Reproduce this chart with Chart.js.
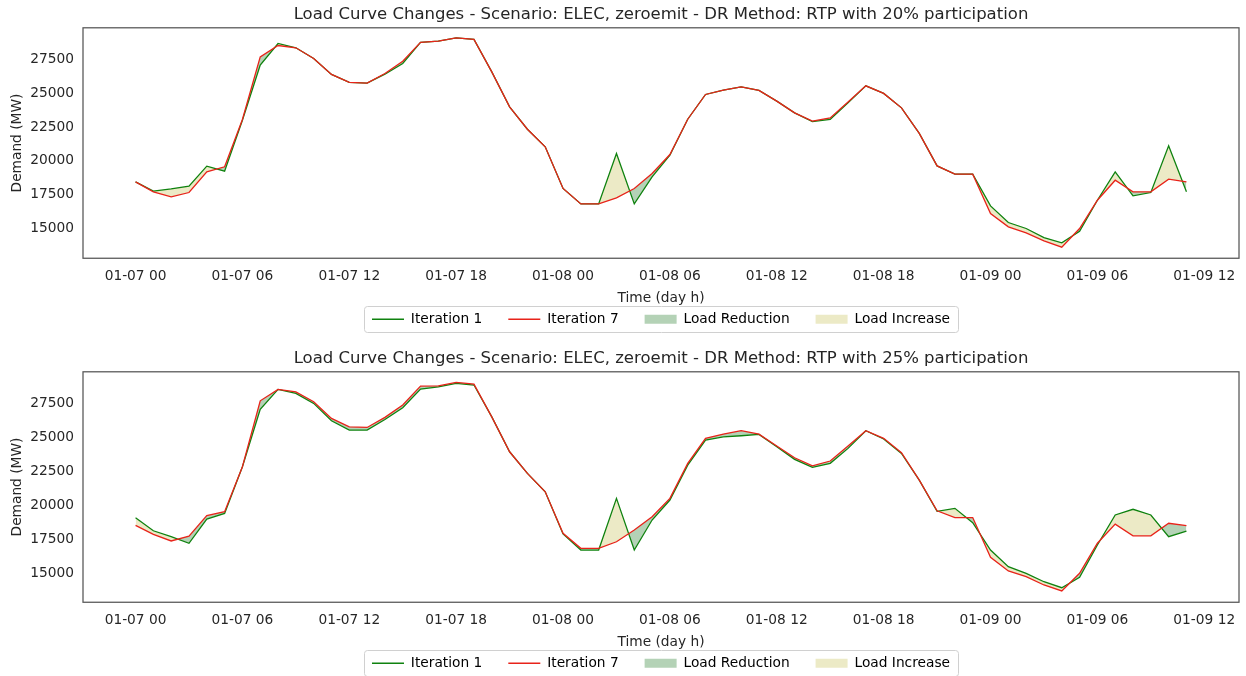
<!DOCTYPE html>
<html>
<head>
<meta charset="utf-8">
<script src="https://cdn.jsdelivr.net/npm/chart.js@4.4.1/dist/chart.umd.min.js"></script>
<style>
  html, body { margin: 0; padding: 0; background: #fff; overflow: hidden; }
  canvas { position: absolute; left: 0; }
</style>
</head>
<body>
<canvas id="graf1" width="1246" height="344" style="top:0px"></canvas>
<canvas id="graf2" width="1246" height="344" style="top:344px"></canvas>
<script>
// horas desde 01-07 00
const horas = Array.from({ length: 60 }, (_, i) => i);

const tickHoras = [0, 6, 12, 18, 24, 30, 36, 42, 48, 54, 60];
const etiquetasX = ['01-07 00', '01-07 06', '01-07 12', '01-07 18', '01-08 00', '01-08 06',
                    '01-08 12', '01-08 18', '01-09 00', '01-09 06', '01-09 12'];
const ticksY = [15000, 17500, 20000, 22500, 25000, 27500];

// 20% participation
const it1_20 = [18450, 17760, 17930, 18130, 19610, 19240, 23010, 27080, 28680, 28360,
                27570, 26390, 25800, 25750, 26410, 27200, 28760, 28850, 29100, 28980,
                26580, 24000, 22340, 21040, 17960, 16820, 16820, 20550, 16820, 18820,
                20420, 23080, 24910, 25230, 25470, 25210, 24420, 23550, 22910, 23060,
                24300, 25550, 24990, 23920, 22030, 19630, 19020, 19020, 16670, 15440,
                15000, 14330, 13940, 14800, 17090, 19190, 17410, 17660, 21110, 17710];
const it7_20 = [18450, 17710, 17340, 17660, 19190, 19560, 23060, 27690, 28530, 28360,
                27570, 26390, 25800, 25750, 26460, 27370, 28760, 28850, 29100, 28980,
                26580, 24000, 22340, 21040, 17960, 16820, 16820, 17260, 17960, 19070,
                20470, 23080, 24910, 25230, 25470, 25210, 24420, 23550, 22940, 23180,
                24360, 25550, 24990, 23920, 22030, 19630, 19020, 19020, 16110, 15120,
                14680, 14080, 13620, 15000, 17090, 18570, 17710, 17710, 18650, 18450];

// 25% participation
const it1_25 = [19090, 18130, 17690, 17210, 18990, 19410, 22840, 27060, 28530, 28240,
                27500, 26220, 25540, 25540, 26320, 27180, 28550, 28720, 28970, 28850,
                26510, 23940, 22350, 21000, 17900, 16710, 16710, 20510, 16710, 18920,
                20390, 22960, 24800, 25040, 25120, 25220, 24310, 23380, 22790, 23090,
                24190, 25490, 24880, 23820, 21860, 19560, 19780, 18720, 16710, 15490,
                15000, 14380, 13940, 14710, 17080, 19290, 19710, 19290, 17690, 18110];
const it7_25 = [18530, 17870, 17380, 17740, 19240, 19530, 22840, 27690, 28530, 28350,
                27620, 26400, 25780, 25730, 26470, 27380, 28770, 28790, 29040, 28920,
                26510, 23940, 22350, 21000, 17940, 16840, 16840, 17320, 18180, 19160,
                20510, 23090, 24930, 25240, 25490, 25240, 24360, 23500, 22910, 23260,
                24360, 25490, 24930, 23870, 21860, 19600, 19090, 19100, 16180, 15170,
                14750, 14140, 13700, 15000, 17210, 18620, 17760, 17760, 18680, 18500];

const VERDE = '#0f820f';
const ROJO = '#e8231a';
const C_REDUCCION = '#b4d2b6';
const C_AUMENTO = '#eceac6';
const TEXTO = '#262626';
const FUENTE = 'DejaVu Sans';

const marco = {
  id: 'marco',
  afterDatasetsDraw(chart) {
    const { ctx, chartArea: a } = chart;
    ctx.save();
    ctx.strokeStyle = '#555555';
    ctx.lineWidth = 1.25;
    ctx.strokeRect(a.left, a.top, a.right - a.left, a.bottom - a.top);
    ctx.restore();
  },
  afterDraw(chart) {
    // recuadro de la leyenda
    const cajas = chart.legend.legendHitBoxes;
    if (!cajas || !cajas.length) return;
    const x0 = Math.min(...cajas.map(b => b.left)) - 8;
    const x1 = Math.max(...cajas.map(b => b.left + b.width)) + 8;
    const y0 = Math.min(...cajas.map(b => b.top)) - 6;
    const y1 = Math.max(...cajas.map(b => b.top + b.height)) + 6;
    const ctx = chart.ctx;
    ctx.save();
    ctx.strokeStyle = '#d0d0d0';
    ctx.lineWidth = 1;
    ctx.beginPath();
    ctx.roundRect(Math.round(x0) + 0.5, Math.round(y0) + 0.5, Math.round(x1 - x0), Math.round(y1 - y0), 3);
    ctx.stroke();
    ctx.restore();
  }
};

function crearGrafico(id, titulo, it1, it7, yMin, yMax) {
  const puntos = arr => arr.map((v, i) => ({ x: horas[i], y: v }));

  new Chart(document.getElementById(id), {
    type: 'line',
    data: {
      datasets: [{
        label: 'Iteration 7',
        data: puntos(it7),
        borderColor: ROJO,
        borderWidth: 1.3,
        pointRadius: 0,
        tension: 0,
        fill: { target: 1, above: C_REDUCCION, below: C_AUMENTO }
      }, {
        label: 'Iteration 1',
        data: puntos(it1),
        borderColor: VERDE,
        borderWidth: 1.3,
        pointRadius: 0,
        tension: 0,
        fill: false
      }]
    },
    options: {
      responsive: false,
      animation: false,
      layout: { padding: { left: 5, right: 7, top: 0, bottom: 8 } },
      scales: {
        x: {
          type: 'linear',
          min: -2.95,
          max: 61.95,
          grid: { display: false, drawTicks: false },
          border: { display: false },
          afterBuildTicks: s => { s.ticks = tickHoras.map(v => ({ value: v })); },
          ticks: {
            autoSkip: false,
            maxRotation: 0,
            padding: 9.75,
            color: TEXTO,
            font: { family: FUENTE, size: 13.75 },
            callback: (v, i) => etiquetasX[i]
          },
          title: {
            display: true,
            text: 'Time (day h)',
            color: TEXTO,
            font: { family: FUENTE, size: 13.75 },
            padding: { top: -4.5, bottom: -20 }
          }
        },
        y: {
          min: yMin,
          max: yMax,
          grid: { display: false, drawTicks: false },
          border: { display: false },
          afterBuildTicks: s => { s.ticks = ticksY.map(v => ({ value: v })); },
          afterFit: s => { s.width = 78; },
          ticks: {
            padding: 9,
            color: TEXTO,
            font: { family: FUENTE, size: 13.75 },
            callback: v => String(v)
          },
          title: {
            display: true,
            text: 'Demand (MW)',
            color: TEXTO,
            font: { family: FUENTE, size: 13.75 },
            padding: { top: 4, bottom: 0 }
          }
        }
      },
      plugins: {
        filler: { drawTime: 'beforeDatasetsDraw' },
        title: {
          display: true,
          fullSize: false,
          text: titulo,
          color: TEXTO,
          font: { family: FUENTE, size: 16.5, weight: 'normal' },
          padding: { top: 5, bottom: 3 }
        },
        legend: {
          position: 'bottom',
          fullSize: false,
          labels: {
            usePointStyle: true,
            pointStyleWidth: 32,
            boxHeight: 9,
            padding: 26,
            color: TEXTO,
            font: { family: FUENTE, size: 13.75 },
            generateLabels: () => [
              { text: 'Iteration 1', pointStyle: 'line', strokeStyle: VERDE, fillStyle: VERDE, lineWidth: 1.5 },
              { text: 'Iteration 7', pointStyle: 'line', strokeStyle: ROJO, fillStyle: ROJO, lineWidth: 1.5 },
              { text: 'Load Reduction', pointStyle: 'rect', strokeStyle: C_REDUCCION, fillStyle: C_REDUCCION, lineWidth: 0 },
              { text: 'Load Increase', pointStyle: 'rect', strokeStyle: C_AUMENTO, fillStyle: C_AUMENTO, lineWidth: 0 }
            ]
          }
        },
        tooltip: { enabled: false }
      }
    },
    plugins: [marco]
  });
}

crearGrafico('graf1', 'Load Curve Changes - Scenario: ELEC, zeroemit - DR Method: RTP with 20% participation',
             it1_20, it7_20, 12800, 29840);
crearGrafico('graf2', 'Load Curve Changes - Scenario: ELEC, zeroemit - DR Method: RTP with 25% participation',
             it1_25, it7_25, 12870, 29825);
</script>
</body>
</html>
